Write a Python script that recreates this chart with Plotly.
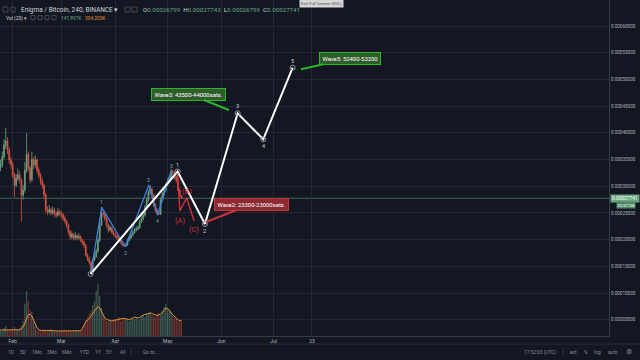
import plotly.graph_objects as go
import pandas as pd

# ---------------- data ----------------
start_date = "2018-01-25"          # first daily candle
first_open_sats = 33500
closes_sats = [34000, 35500, 37700, 38500, 36800, 34900, 34000, 32100, 30200, 31500,
               32100, 31200, 28300, 29300, 33000, 36000, 33500, 31200, 35000, 34000,
               34900, 33000, 32100, 31000, 30200, 28400, 25500, 25200, 25600, 25000,
               25500, 24800, 24600, 25200, 24800, 24600, 24000, 23500, 22700, 21500,
               20500, 21000, 20300, 20800, 20300, 20600, 19900, 19500, 19000, 17100,
               16500, 15800, 14200, 16200, 16800, 17800, 19900, 22700, 25000, 24800,
               24000, 22700, 21800, 22200, 21400, 21000, 20700, 20300, 19900, 19600,
               19000, 18900, 19000, 19900, 20300, 20900, 21300, 21800, 22000, 22200,
               23300, 23900, 24600, 26000, 27400, 28800, 29500, 28400, 26500, 25500,
               25000, 24800, 27400, 28500, 29300, 30200, 31000, 31500, 32700, 32600,
               31800, 31100, 29300, 28200, 27741]
highs_sats = [35000, 36500, 38800, 40900, 39200, 37300, 35500, 34500, 32500, 32300,
              33300, 32800, 31500, 30200, 34500, 39960, 36500, 33800, 36460, 35500,
              35800, 35200, 33500, 32500, 31500, 30500, 28800, 26200, 26500, 26000,
              26200, 25900, 25300, 25900, 25600, 25300, 25000, 24500, 23700, 23000,
              21800, 21600, 21200, 21400, 21000, 21200, 20800, 20200, 19800, 19100,
              17400, 16800, 15900, 16600, 17500, 18300, 20300, 23200, 26100, 25600,
              25000, 24200, 23000, 22700, 22400, 21800, 21300, 20900, 20500, 20100,
              19800, 19400, 19300, 20200, 20700, 21300, 21700, 22200, 22500, 22700,
              23700, 24300, 25000, 26500, 27900, 29300, 30200, 29800, 28600, 26800,
              25900, 25400, 27900, 28900, 29700, 30600, 31500, 32000, 33300, 33100,
              32800, 32000, 31300, 29600, 28400]
lows_sats = [32800, 33500, 35000, 37000, 36000, 34200, 33300, 31500, 28000, 29800,
             31000, 30500, 23350, 27500, 28800, 32500, 32800, 30500, 30800, 33200,
             33500, 32400, 31500, 30300, 29500, 27800, 25000, 24600, 24800, 24500,
             24700, 24200, 24000, 24300, 24300, 24000, 23500, 23000, 22200, 21000,
             20000, 20100, 19800, 20000, 19800, 20000, 19500, 19000, 18400, 16800,
             16000, 15300, 13560, 14000, 16000, 16600, 17500, 19500, 22500, 24200,
             23500, 22300, 21300, 21500, 21000, 20600, 20300, 19900, 19500, 19200,
             18700, 18600, 18610, 18800, 19600, 20100, 20600, 21100, 21500, 21700,
             22000, 23100, 23600, 24300, 25700, 27000, 28400, 27800, 26100, 25100,
             24700, 24600, 24600, 27000, 28200, 29000, 30000, 30700, 31200, 32000,
             31300, 30600, 29000, 27900, 27600]
volume_k = [140, 110, 160, 200, 130, 120, 150, 100, 180, 130, 120, 160, 210,
            300, 650, 900, 700, 520, 480, 300, 200,
            120, 100, 90, 110, 130, 100, 90, 120, 150, 110, 90, 100, 80, 110, 90, 100,
            120, 90, 110, 100, 80, 100, 90, 120, 100, 110,
            140, 220, 320, 380, 450, 500,
            620, 700, 900, 1050, 800, 560,
            420, 350, 300, 280,
            320, 300, 340, 310, 330, 380, 300, 350, 360, 320, 340, 300, 330, 360, 340,
            380, 320, 340, 400, 420, 380, 440, 460,
            480, 420, 400, 380, 440, 460, 420, 500, 580, 640, 560,
            520, 480, 400, 360,
            340, 300, 320, 300]
volume_ma_k = [120, 120, 125, 130, 130, 125, 120, 120, 125, 125, 120, 125, 140,
               180, 260, 360, 430, 430, 400, 320, 240,
               160, 120, 110, 105, 105, 110, 115, 115, 110, 105, 100, 100, 100, 100, 100,
               100, 105, 100, 100, 100, 95, 95, 100, 100, 100, 105,
               150, 220, 280, 320, 350, 400,
               450, 500, 560, 590, 560, 500,
               420, 360, 330, 320,
               310, 300, 310, 320, 330, 340, 340, 350, 350, 340, 340, 330, 340, 360, 380,
               370, 360, 370, 400, 420, 430, 440, 440,
               460, 450, 430, 420, 410, 420, 440, 470, 520, 560, 550,
               520, 460, 420, 380,
               340, 320, 310, 304]

wave_dates = ["2018-03-17 19:00", "2018-05-06 19:00", "2018-05-22 12:00",
              "2018-06-10 07:00", "2018-06-25 00:00", "2018-07-11 22:00"]
wave_prices = [0.00013560, 0.00032750, 0.00022920, 0.00043650, 0.00038780, 0.00052190]
wave_labels = ["", "1", "2", "3", "4", "5"]

sub_dates = ["2018-03-17 19:00", "2018-03-24 05:00", "2018-04-06 17:00",
             "2018-04-20 07:00", "2018-04-25 07:00", "2018-05-03 02:00"]
sub_prices = [0.00013560, 0.00026048, 0.00018669, 0.00030224, 0.00024606, 0.00032846]
sub_labels = ["", "1", "2", "3", "4", "5"]

abc_dates = ["2018-05-06 19:00", "2018-05-08 02:00", "2018-05-12 00:00", "2018-05-16 05:00"]
abc_prices = [0.00032750, 0.00025355, 0.00027846, 0.00023538]
abc_labels = ["", "(A)", "(B)", "(C)"]

callout_texts = ["Wave2: 23300-23000sats.", "Wave3: 43500-44000sats.", "Wave5: 52400-53200"]
callout_dates = ["2018-05-23 02:00", "2018-06-05 07:00", "2018-07-16 17:00"]
callout_prices = [0.00023295, 0.00044269, 0.00051891]

month_ticks = ["2018-02-01", "2018-03-01", "2018-04-01", "2018-05-01",
               "2018-06-01", "2018-07-01", "2018-07-23"]
month_labels = ["Feb", "Mar", "Apr", "May", "Jun", "Jul", "23"]

last_price = 0.00027741
ohlc_header = ["0.00026799", "0.00027743", "0.00026799", "0.00027741"]
vol_header = ["141.897K", "304.203K"]

# ---------------- styling ----------------
BG = "#131722"
GRID = "#232733"
TXT = "#b2b5be"
UP = "#6ba583"
DN = "#d75442"
FONT = "Roboto"

W, H = 640, 360
PW, PH = 609, 336


def px(xp, yp):
    return xp / PW, (PH - yp) / PH


dates = pd.date_range(start_date, periods=len(closes_sats), freq="D")
closes = [c * 1e-8 for c in closes_sats]
opens = [first_open_sats * 1e-8] + closes[:-1]
highs = [h * 1e-8 for h in highs_sats]
lows = [l * 1e-8 for l in lows_sats]
vol_colors = ["rgba(107,165,131,0.45)" if c >= o else "rgba(215,84,66,0.45)"
              for o, c in zip(opens, closes)]

fig = go.Figure()

# volume on primary (hidden) axis
fig.add_trace(go.Bar(x=dates, y=volume_k, marker_color=vol_colors,
                     marker_line_width=0, yaxis="y", hoverinfo="skip"))
fig.add_trace(go.Scatter(x=dates, y=volume_ma_k, mode="lines",
                         line=dict(color="#e3903a", width=1), yaxis="y",
                         hoverinfo="skip"))

# price candles on the right axis
fig.add_trace(go.Candlestick(
    x=dates, open=opens, high=highs, low=lows, close=closes, yaxis="y2",
    increasing=dict(line=dict(color=UP, width=0.8), fillcolor=UP),
    decreasing=dict(line=dict(color=DN, width=0.8), fillcolor=DN),
    whiskerwidth=0, hoverinfo="skip"))

# Elliott waves
fig.add_trace(go.Scatter(x=sub_dates, y=sub_prices, mode="lines", yaxis="y2",
                         line=dict(color="#3f7fd8", width=1.3), hoverinfo="skip"))
fig.add_trace(go.Scatter(x=abc_dates, y=abc_prices, mode="lines", yaxis="y2",
                         line=dict(color="#d32f3c", width=1.4), hoverinfo="skip"))
fig.add_trace(go.Scatter(x=wave_dates, y=wave_prices, mode="lines+markers", yaxis="y2",
                         line=dict(color="#ffffff", width=2),
                         marker=dict(symbol="circle-open", size=5, color="#9598a1",
                                     line=dict(width=1)),
                         hoverinfo="skip"))

annotations = []
# wave labels
for i, (d, p, t) in enumerate(zip(wave_dates, wave_prices, wave_labels)):
    if not t:
        continue
    annotations.append(dict(x=d, y=p, xref="x", yref="y2", text=t, showarrow=False,
                            yshift=7 if i % 2 == 1 else -7,
                            font=dict(size=5.5, color="#d1d4dc", family=FONT)))
for i, (d, p, t) in enumerate(zip(sub_dates, sub_prices, sub_labels)):
    if not t:
        continue
    annotations.append(dict(x=d, y=p, xref="x", yref="y2", text=t, showarrow=False,
                            yshift=5 if i % 2 == 1 else -6,
                            font=dict(size=5, color="#8e9fc0", family=FONT)))
for i, (d, p, t) in enumerate(zip(abc_dates, abc_prices, abc_labels)):
    if not t:
        continue
    annotations.append(dict(x=d, y=p, xref="x", yref="y2", text=t, showarrow=False,
                            yshift=6 if t == "(B)" else -9,
                            font=dict(size=7.5, color="#d32f3c", family=FONT)))

# callouts
callout_style = [
    dict(bg="#8c2a32", bd="#c9343f", ax=46, ay=-18),
    dict(bg="#2f5c2b", bd="#2ab52a", ax=-40, ay=-16),
    dict(bg="#2f5c2b", bd="#2ab52a", ax=49, ay=-11),
]
for t, d, p, s in zip(callout_texts, callout_dates, callout_prices, callout_style):
    annotations.append(dict(x=d, y=p, xref="x", yref="y2", text=t, showarrow=True,
                            ax=s["ax"], ay=s["ay"], arrowhead=0, arrowwidth=2,
                            arrowcolor=s["bd"], standoff=0, bgcolor=s["bg"],
                            bordercolor=s["bd"], borderwidth=1, borderpad=2.5,
                            font=dict(size=5.9, color="#ffffff", family=FONT)))

# header legend
hx, hy = px(19, 10)
annotations.append(dict(x=hx, y=hy, xref="paper", yref="paper", xanchor="left",
                        yanchor="middle", showarrow=False,
                        text="Enigma / Bitcoin, 240, BINANCE \u25be",
                        font=dict(size=6.5, color="#d1d4dc", family=FONT)))
ohlc_txt = "  ".join(f"<span style='color:#d1d4dc'>{k}</span><span style='color:{UP}'>{v}</span>"
                     for k, v in zip("OHLC", ohlc_header))
ox, oy = px(141, 10)
annotations.append(dict(x=ox, y=oy, xref="paper", yref="paper", xanchor="left",
                        yanchor="middle", showarrow=False, text=ohlc_txt,
                        font=dict(size=6.2, family=FONT)))
vx, vy = px(4, 18)
annotations.append(dict(x=vx, y=vy, xref="paper", yref="paper", xanchor="left",
                        yanchor="middle", showarrow=False, text="Vol (20) \u25be",
                        font=dict(size=4.8, color="#d1d4dc", family=FONT)))
for xp, t, c in [(59, vol_header[0], UP), (83, vol_header[1], "#e3903a")]:
    ax_, ay_ = px(xp, 18)
    annotations.append(dict(x=ax_, y=ay_, xref="paper", yref="paper", xanchor="left",
                            yanchor="middle", showarrow=False, text=t,
                            font=dict(size=4.8, color=c, family=FONT)))

# last price label
lx, ly = px(609.5, 198.5)
annotations.append(dict(x=lx, y=ly, xref="paper", yref="paper", xanchor="left",
                        yanchor="middle", showarrow=False, text=f"{last_price:.8f}",
                        bgcolor=UP, borderpad=1,
                        font=dict(size=4.8, color="#ffffff", family=FONT)))
cx, cy = px(626, 205)
annotations.append(dict(x=cx, y=cy, xref="paper", yref="paper", xanchor="center",
                        yanchor="middle", showarrow=False, text="02:07:58",
                        bgcolor="#4f8a68", borderpad=0.5,
                        font=dict(size=4.4, color="#ffffff", family=FONT)))

# exit full screen tooltip
ex, ey = px(321, 3.5)
annotations.append(dict(x=ex, y=ey, xref="paper", yref="paper", xanchor="center",
                        yanchor="middle", showarrow=False, text="Exit Full Screen (ESC)",
                        bgcolor="#d6d6d6", borderpad=1,
                        font=dict(size=4.3, color="#555555", family=FONT)))

# bottom toolbar
for xp, t in zip([11, 23, 37, 52, 67, 84, 98, 109, 122, 150],
                 ["1D", "5D", "1Mo", "3Mo", "6Mo", "YTD", "1Y", "5Y", "All", "Go to..."]):
    bx, by = px(xp, 352)
    annotations.append(dict(x=bx, y=by, xref="paper", yref="paper", xanchor="center",
                            yanchor="middle", showarrow=False, text=t,
                            font=dict(size=4.8, color="#8a8d96", family=FONT)))
for xp, t in zip([540, 573, 585.5, 597.5, 613, 629],
                 ["17:52:03 (UTC)", "ext", "%", "log", "auto", "\u2699"]):
    bx, by = px(xp, 352)
    annotations.append(dict(x=bx, y=by, xref="paper", yref="paper", xanchor="center",
                            yanchor="middle", showarrow=False, text=t,
                            font=dict(size=4.8 if t != "\u2699" else 7, color="#8a8d96",
                                      family=FONT)))

shapes = []
# last-price line
shapes.append(dict(type="line", xref="paper", yref="y2", x0=0, x1=1,
                   y0=last_price, y1=last_price, line=dict(color=UP, width=0.8),
                   opacity=0.7, layer="below"))
# separators
x1p, _ = px(640, 0)
_, sy = px(0, 344)
shapes.append(dict(type="line", xref="paper", yref="paper", x0=0, x1=x1p, y0=sy, y1=sy,
                   line=dict(color="#2a2e39", width=1)))
for xp in [131, 563]:
    sx, s0 = px(xp, 348)
    _, s1 = px(xp, 356)
    shapes.append(dict(type="line", xref="paper", yref="paper", x0=sx, x1=sx, y0=s0, y1=s1,
                       line=dict(color="#2a2e39", width=1)))
# little header icons
for (xa, ya, w, h) in [(3, 7, 5, 5), (11, 7, 4, 5), (125, 7, 5, 5), (132, 7, 5, 5),
                       (31, 15.5, 4, 4), (38, 15.5, 4, 4), (45, 15.5, 4, 4), (52, 15.5, 4, 4)]:
    a0, b0 = px(xa, ya)
    a1, b1 = px(xa + w, ya + h)
    shapes.append(dict(type="rect", xref="paper", yref="paper", x0=a0, x1=a1, y0=b1, y1=b0,
                       line=dict(color="#50535e", width=0.8)))

fig.update_layout(
    width=W, height=H,
    margin=dict(l=0, r=W - PW, t=0, b=H - PH),
    paper_bgcolor=BG, plot_bgcolor=BG,
    showlegend=False,
    bargap=0.25,
    xaxis=dict(type="date", range=["2018-01-24 17:00", "2019-01-09 17:00"],
               tickvals=month_ticks, ticktext=month_labels,
               showgrid=True, gridcolor=GRID, gridwidth=1, zeroline=False,
               showline=True, linecolor="#363a45", linewidth=1,
               ticks="", tickfont=dict(size=5, color=TXT, family=FONT),
               rangeslider=dict(visible=False), fixedrange=True),
    yaxis=dict(range=[0, 6720], visible=False, showgrid=False, fixedrange=True),
    yaxis2=dict(overlaying="y", side="right",
                range=[0.00001948, 0.00064869],
                tick0=0, dtick=0.00005, tickformat=".8f",
                showgrid=True, gridcolor=GRID, gridwidth=1, zeroline=False,
                showline=True, linecolor="#363a45", linewidth=1,
                ticks="", tickfont=dict(size=4.6, color=TXT, family=FONT),
                fixedrange=True),
    annotations=annotations,
    shapes=shapes,
)

fig.write_html(
    "out.html",
    config={"displayModeBar": False},
    post_script="document.body.style.margin='0';document.body.style.overflow='hidden';"
                "document.body.style.background='" + BG + "';",
)
